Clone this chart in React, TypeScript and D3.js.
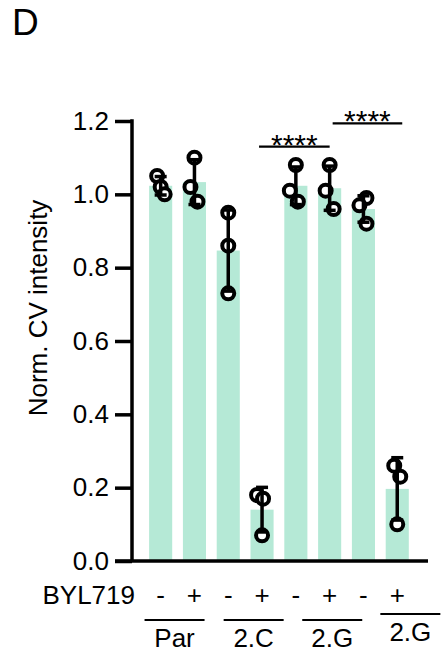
import React, { useEffect, useRef } from 'react';
import * as d3 from 'd3';

// one entry per bar, left to right
const treatments = ['-', '+', '-', '+', '-', '+', '-', '+'];
const replicates = [
  [1.05, 1.02, 1.0],
  [1.1, 1.02, 0.98],
  [0.95, 0.86, 0.73],
  [0.18, 0.17, 0.07],
  [1.08, 1.01, 0.98],
  [1.08, 1.01, 0.96],
  [0.99, 0.97, 0.92],
  [0.26, 0.23, 0.1],
];
const groups = ['Par', '2.C', '2.G', '2.G'];
const yTicks = [0, 0.2, 0.4, 0.6, 0.8, 1.0, 1.2];
// significance brackets: [from bar, to bar, label]
const comparisons: [number, number, string][] = [
  [3, 5, '****'],
  [5, 7, '****'],
];

const FONT = '"Liberation Sans", Arial, sans-serif';

const App = () => {
  const svgRef = useRef<SVGSVGElement>(null);

  useEffect(() => {
    const svg = d3.select(svgRef.current);
    svg.selectAll('*').remove();

    const x = d3.scaleBand<number>()
      .domain(d3.range(replicates.length))
      .range([138.4, 419.5])
      .padding(0.317);
    const y = d3.scaleLinear().domain([0, 1.2]).range([561, 121]);
    const cx = (i: number) => (x(i) as number) + x.bandwidth() / 2;

    const stats = replicates.map(v => ({
      mean: d3.mean(v) as number,
      sd: d3.deviation(v) as number,
    }));

    svg.append('text')
      .attr('x', 12)
      .attr('y', 35)
      .attr('font-family', FONT)
      .attr('font-size', 37)
      .text('D');

    // bars
    svg.append('g')
      .selectAll('rect')
      .data(stats)
      .enter()
      .append('rect')
      .attr('x', (_, i) => x(i) as number)
      .attr('width', x.bandwidth())
      .attr('y', d => y(d.mean))
      .attr('height', d => y(0) - y(d.mean))
      .attr('fill', '#b5e9d6');

    // points
    const jitter = [[-3.5, 0, 4], [0, -4, 3], [0, 0, 0], [-5, 1, 0], [0, -6, 2], [0, -4, 4], [3, -4, 3], [-3, 3, 0]];
    const pts = svg.append('g');
    replicates.forEach((vals, i) => {
      vals.forEach((v, j) => {
        pts.append('circle')
          .attr('cx', cx(i) + jitter[i][j])
          .attr('cy', y(v))
          .attr('r', 6)
          .attr('fill', 'white')
          .attr('stroke', 'black')
          .attr('stroke-width', 4);
      });
    });

    // error bars (mean ± SD)
    const eb = svg.append('g').attr('stroke', 'black').attr('stroke-width', 3.5);
    stats.forEach((s, i) => {
      const lo = y(s.mean - s.sd);
      const hi = y(s.mean + s.sd);
      eb.append('line').attr('x1', cx(i)).attr('x2', cx(i)).attr('y1', lo).attr('y2', hi);
      eb.append('line').attr('x1', cx(i) - 6).attr('x2', cx(i) + 6).attr('y1', hi).attr('y2', hi);
      eb.append('line').attr('x1', cx(i) - 6).attr('x2', cx(i) + 6).attr('y1', lo).attr('y2', lo);
    });

    // y axis
    const yAxis = svg.append('g')
      .attr('transform', 'translate(132,0)')
      .call(d3.axisLeft(y).tickValues(yTicks).tickFormat(d3.format('.1f')).tickSize(17).tickPadding(6));
    yAxis.select('.domain').remove();
    yAxis.selectAll('line').attr('stroke', 'black').attr('stroke-width', 3.5);
    yAxis.selectAll('text')
      .attr('font-family', FONT)
      .attr('font-size', 26)
      .attr('fill', 'black');
    svg.append('line')
      .attr('x1', 132).attr('x2', 132)
      .attr('y1', y(1.2) - 1.75).attr('y2', y(0))
      .attr('stroke', 'black').attr('stroke-width', 3.5);
    svg.append('line')
      .attr('x1', 115).attr('x2', 428)
      .attr('y1', y(0)).attr('y2', y(0))
      .attr('stroke', 'black').attr('stroke-width', 3.5);

    svg.append('text')
      .attr('transform', `translate(47,${308}) rotate(-90)`)
      .attr('text-anchor', 'middle')
      .attr('font-family', FONT)
      .attr('font-size', 26)
      .text('Norm. CV intensity');

    // significance
    const ends = [[-3, 0], [3, 5]];
    comparisons.forEach(([a, b, label], k) => {
      const x1 = cx(a) + ends[k][0];
      const x2 = cx(b) + ends[k][1];
      const ly = k === 0 ? 146.7 : 123.3;
      svg.append('line')
        .attr('x1', x1).attr('x2', x2).attr('y1', ly).attr('y2', ly)
        .attr('stroke', 'black').attr('stroke-width', 2.2);
      svg.append('text')
        .attr('x', (x1 + x2) / 2)
        .attr('y', ly + 8)
        .attr('text-anchor', 'middle')
        .attr('font-family', FONT)
        .attr('font-size', 30)
        .text(label);
    });

    // treatment row
    svg.append('text')
      .attr('x', 135)
      .attr('y', 604)
      .attr('text-anchor', 'end')
      .attr('font-family', FONT)
      .attr('font-size', 26)
      .text('BYL719');
    svg.append('g')
      .selectAll('text')
      .data(treatments)
      .enter()
      .append('text')
      .attr('x', (_, i) => cx(i))
      .attr('y', 604)
      .attr('text-anchor', 'middle')
      .attr('font-family', FONT)
      .attr('font-size', 26)
      .text(d => d);

    // cell line groups
    const shift = [-3, 8.5, 19.5, 30];
    const lift = [0, 0, 0, -6];
    groups.forEach((g, k) => {
      const c = cx(2 * k) + x.step() / 2 + shift[k];
      svg.append('line')
        .attr('x1', c - 30).attr('x2', c + 30)
        .attr('y1', 620 + lift[k]).attr('y2', 620 + lift[k])
        .attr('stroke', 'black').attr('stroke-width', 2);
      svg.append('text')
        .attr('x', k === 3 ? c - 0 : c)
        .attr('y', 647 + lift[k])
        .attr('text-anchor', 'middle')
        .attr('font-family', FONT)
        .attr('font-size', 26)
        .text(g);
    });
  }, []);

  return (
    <svg ref={svgRef} width={441} height={657} style={{ position: 'absolute', left: 0, top: 0 }}></svg>
  );
};

export default App;
